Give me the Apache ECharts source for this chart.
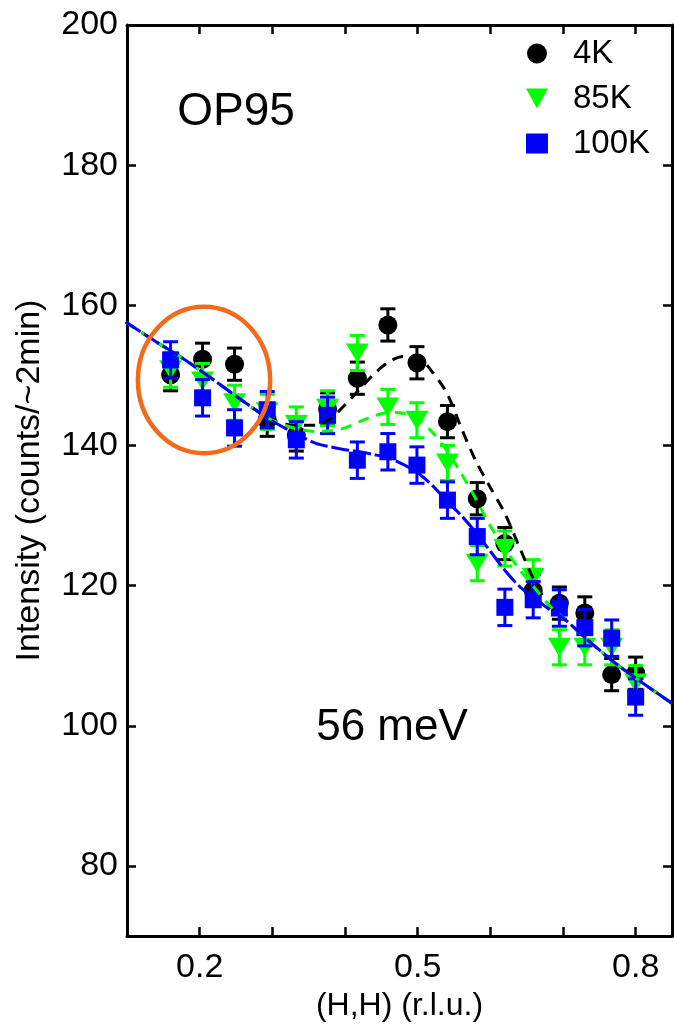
<!DOCTYPE html>
<html><head><meta charset="utf-8">
<script src="https://cdn.jsdelivr.net/npm/echarts@6/dist/echarts.min.js"></script>
<style>html,body{margin:0;padding:0;background:#fff}#c{width:674px;height:1024px}</style>
</head><body><div id="c"></div>
<script>
// ---- data ----
const hh      = [0.160,0.204,0.248,0.293,0.333,0.376,0.417,0.459,0.499,0.541,0.582,0.620,0.659,0.695,0.730,0.767,0.800];
const int4K   = [150.1,152.3,151.6,143.6,141.5,145.2,149.6,157.2,151.8,143.4,132.4,126.0,119.3,117.5,116.1,107.3,107.5];
const err4K   = [2.3,2.3,2.3,2.3,2.3,2.3,2.3,2.3,2.3,2.3,2.3,2.3,2.3,2.3,2.3,2.3,2.3];
const int85K  = [150.8,149.2,146.1,144.8,143.0,145.3,153.2,145.5,143.6,137.5,123.2,125.3,121.2,111.2,111.2,111.2,106.1];
const err85K  = [2.5,2.5,2.5,2.5,2.5,2.5,2.5,2.5,2.5,2.5,2.5,2.5,2.5,2.5,2.5,2.5,2.5];
const int100K = [152.2,146.8,142.5,145.1,140.8,144.3,137.9,139.1,137.2,132.2,127.0,116.9,118.0,116.8,114.0,112.5,104.1];
const err100K = [2.6,2.6,2.6,2.6,2.6,2.6,2.6,2.6,2.6,2.6,2.6,2.6,2.6,2.6,2.6,2.6,2.6];

const fitX    = [0.098,0.14,0.18,0.22,0.26,0.30,0.33,0.36,0.38,0.40,0.42,0.44,0.46,0.48,0.50,0.52,0.54,0.56,0.58,0.60,0.62,0.64,0.66,0.68,0.70,0.74,0.78,0.85];
const fit4K   = [157.6,154.8,152.2,149.3,146.3,143.6,142.9,142.9,143.8,145.8,148.0,150.2,151.9,152.7,152.6,150.5,147.5,142.5,137.8,134.0,130.3,125.5,120.8,117.3,115.4,111.7,108.3,103.2];
const fit85K  = [157.6,154.8,152.2,149.3,146.3,143.6,142.5,142.0,142.1,142.5,143.4,144.2,144.7,144.6,143.7,141.9,139.3,136.0,132.4,128.5,125.3,122.3,119.8,117.3,115.4,111.7,108.3,103.2];
const fit100K = [157.6,154.8,152.2,149.3,146.3,143.5,141.8,140.3,139.8,139.4,139.1,138.7,138.2,137.3,136.1,134.3,132.1,130.0,127.6,124.9,122.2,119.9,118.3,116.7,115.4,111.7,108.3,103.2];

const xTicks  = [0.2,0.3,0.4,0.5,0.6,0.7,0.8];
const xLabels = [0.2,0.5,0.8];
const yTicks  = [80,100,120,140,160,180,200];
const seriesNames = ['4K','85K','100K'];
const panelLabel = 'OP95';
const energyLabel = '56 meV';
const xTitle = '(H,H) (r.l.u.)';
const yTitle = 'Intensity (counts/~2min)';
// highlighted region (data coords): x range, y range
const circleX = [0.115,0.297];
const circleY = [138.9,159.8];

const FONT = 'Liberation Sans, Arial, sans-serif';
const C4 = '#000000', C85 = '#00ff00', C100 = '#0000ff';
const TRI_DOWN = 'path://M0,0 L10,0 L5,9 Z';

function errData(vals, errs){ return hh.map((x,i)=>[x, vals[i]-errs[i], vals[i]+errs[i]]); }
function errSeries(name, vals, errs, color, z){
  return {
    type:'custom', name:name, z:z, data: errData(vals, errs), silent:true,
    renderItem:function(params, api){
      const x = api.value(0);
      const lo = api.coord([x, api.value(1)]);
      const hi = api.coord([x, api.value(2)]);
      const cap = 7.5;
      const st = {stroke:color, lineWidth:3};
      return {type:'group', children:[
        {type:'line', shape:{x1:lo[0],y1:lo[1],x2:hi[0],y2:hi[1]}, style:st},
        {type:'line', shape:{x1:lo[0]-cap,y1:lo[1],x2:lo[0]+cap,y2:lo[1]}, style:st},
        {type:'line', shape:{x1:hi[0]-cap,y1:hi[1],x2:hi[0]+cap,y2:hi[1]}, style:st}
      ]};
    }
  };
}
function pts(vals){ return hh.map((x,i)=>[x, vals[i]]); }
function fitPts(vals){ return fitX.map((x,i)=>[x, vals[i]]); }

const axisCommon = {
  axisLine:{show:true, onZero:false, lineStyle:{color:'#000', width:3}},
  splitLine:{show:false}
};

const chart = echarts.init(document.getElementById('c'), null, {renderer:'canvas'});
const option = {
  backgroundColor:'#ffffff',
  animation:false,
  grid:{left:127, right:2, top:25, bottom:88, containLabel:false, outerBoundsMode:'none'},
  legend:{
    orient:'vertical', left:521, top:32, itemWidth:22, itemHeight:20, itemGap:12,
    data:[{name:'4K', icon:'circle'},{name:'85K', icon:TRI_DOWN},{name:'100K', icon:'rect'}],
    textStyle:{fontFamily:FONT, fontSize:33, color:'#000', padding:[0,0,0,20]},
    selectedMode:false
  },
  xAxis:[
    Object.assign({type:'value', position:'bottom', min:0.1, max:0.85,
      name:xTitle, nameLocation:'middle', nameGap:52,
      nameTextStyle:{fontFamily:FONT, fontSize:32, color:'#000'},
      axisTick:{show:true, inside:true, length:9, lineStyle:{color:'#000', width:2.5}, customValues:xTicks},
      axisLabel:{show:true, margin:15, fontFamily:FONT, fontSize:34, color:'#000', customValues:xLabels,
        formatter:function(v){return v.toFixed(1);}}
    }, axisCommon),
    Object.assign({type:'value', position:'top', min:0.1, max:0.85,
      axisTick:{show:true, inside:true, length:9, lineStyle:{color:'#000', width:2.5}, customValues:xTicks},
      axisLabel:{show:false}
    }, axisCommon)
  ],
  yAxis:[
    Object.assign({type:'value', position:'left', min:70, max:200,
      name:yTitle, nameLocation:'middle', nameGap:80, nameRotate:90,
      nameTextStyle:{fontFamily:FONT, fontSize:34, color:'#000'},
      axisTick:{show:true, inside:true, length:9, lineStyle:{color:'#000', width:2.5}, customValues:yTicks},
      axisLabel:{show:true, margin:9, fontFamily:FONT, fontSize:34, color:'#000', customValues:yTicks}
    }, axisCommon),
    Object.assign({type:'value', position:'right', min:70, max:200,
      axisTick:{show:true, inside:true, length:9, lineStyle:{color:'#000', width:2.5}, customValues:yTicks},
      axisLabel:{show:false}
    }, axisCommon)
  ],
  series:[
    errSeries('e4K', int4K, err4K, C4, 2),
    {type:'scatter', name:'4K', data:pts(int4K), symbol:'circle', symbolSize:19, itemStyle:{color:C4, opacity:1}, z:3},
    errSeries('e85K', int85K, err85K, C85, 4),
    {type:'scatter', name:'85K', data:pts(int85K), symbol:TRI_DOWN, symbolSize:[23,19], itemStyle:{color:C85, opacity:1}, z:5},
    errSeries('e100K', int100K, err100K, C100, 6),
    {type:'scatter', name:'100K', data:pts(int100K), symbol:'rect', symbolSize:17, itemStyle:{color:C100, opacity:1}, z:7},
    {type:'line', name:'fit4K', data:fitPts(fit4K), showSymbol:false, symbol:'none', smooth:0.3, z:8,
      lineStyle:{color:C4, width:3, type:[11,8]}},
    {type:'line', name:'fit85K', data:fitPts(fit85K), showSymbol:false, symbol:'none', smooth:0.3, z:9,
      lineStyle:{color:C85, width:3, type:[11,8]}},
    {type:'line', name:'fit100K', data:fitPts(fit100K), showSymbol:false, symbol:'none', smooth:0.3, z:10,
      lineStyle:{color:C100, width:3, type:[18,4]}}
  ]
};
chart.setOption(option);

// annotations positioned through the chart's own scales
const p0 = chart.convertToPixel({gridIndex:0}, [circleX[0], circleY[1]]);
const p1 = chart.convertToPixel({gridIndex:0}, [circleX[1], circleY[0]]);
chart.setOption({
  graphic:[
    {type:'ellipse', z:20, silent:true,
      shape:{cx:(p0[0]+p1[0])/2, cy:(p0[1]+p1[1])/2, rx:(p1[0]-p0[0])/2, ry:(p1[1]-p0[1])/2},
      style:{fill:'none', stroke:'#f26a1b', lineWidth:4.5}},
    {type:'text', z:20, x:236, y:112, silent:true,
      style:{text:panelLabel, font:'46px '+FONT, fill:'#000', align:'center', verticalAlign:'middle'}},
    {type:'text', z:20, x:392, y:728, silent:true,
      style:{text:energyLabel, font:'44px '+FONT, fill:'#000', align:'center', verticalAlign:'middle'}}
  ]
});
</script>
</body></html>
